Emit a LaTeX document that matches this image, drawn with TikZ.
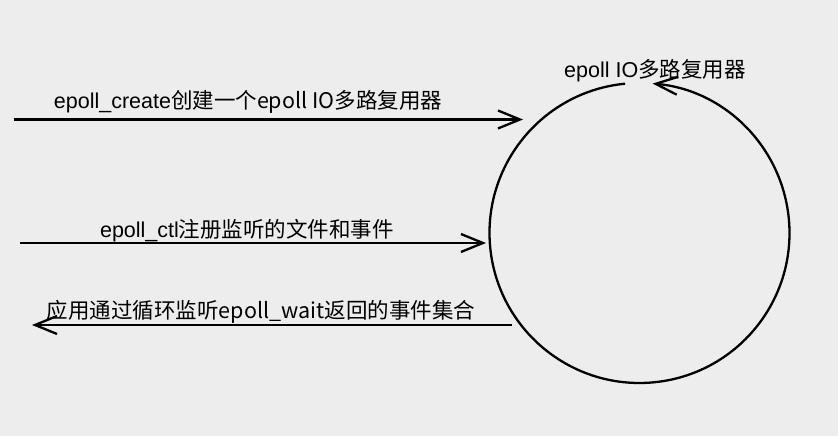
\documentclass[tikz,border=0pt]{standalone}
\usepackage{fontspec}
\setmainfont{Liberation Sans}
\newfontfamily\cjk{Noto Sans CJK SC}
\usetikzlibrary{arrows.meta,calc}
\definecolor{bg}{HTML}{EDEDED}
\begin{document}
\begin{tikzpicture}[x=1pt,y=1pt,
  line/.style={line width=2.3pt,black},
  tip/.style={-{Straight Barb[length=22pt,width=18pt,line width=2.3pt]}},
  lbl/.style={font=\fontsize{21.5}{24}\selectfont,inner sep=0pt,anchor=center}]
\fill[bg] (0,0) rectangle (838,436);
\useasboundingbox (0,0) rectangle (838,436);
% circle (multiplexer)
\coordinate (c) at (639.5,203);
\draw[line,tip] ($(c)+(95.5:150)$) arc[start angle=95.5,end angle=445,radius=150];
\node[lbl] (top) at (655,365) {epoll IO\cjk{多路复用器}};
% arrow 1
\coordinate (a1s) at (14,316.5);
\coordinate (a1e) at (523,316.5);
\draw[line,tip] (a1s) -- (a1e);
\node[lbl] (l1) at (248,334) {epoll\_create\cjk{创建一个}epoll IO\cjk{多路复用器}};
% arrow 2
\coordinate (a2s) at (20,193);
\coordinate (a2e) at (486,193);
\draw[line,tip] (a2s) -- (a2e);
\node[lbl] (l2) at (247,205) {epoll\_ctl\cjk{注册监听的文件和事件}};
% arrow 3
\coordinate (a3s) at (512,111);
\coordinate (a3e) at (32,111);
\draw[line,tip] (a3s) -- (a3e);
\node[lbl] (l3) at (261,124) {\cjk{应用通过循环监听}epoll\_wait\cjk{返回的事件集合}};
\end{tikzpicture}
\end{document}
